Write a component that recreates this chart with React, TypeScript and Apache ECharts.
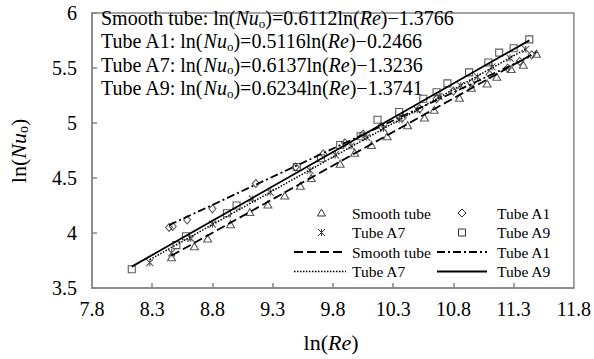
import React, { useEffect, useRef } from "react";
import * as echarts from "echarts";

// ---- data ----
const smoothTube: [number, number][] = [
  [8.46, 3.78], [8.65, 3.88], [8.76, 3.95], [8.95, 4.08], [9.11, 4.19], [9.26, 4.26],
  [9.40, 4.34], [9.53, 4.43], [9.62, 4.50], [9.86, 4.63], [9.98, 4.73], [10.12, 4.80],
  [10.25, 4.88], [10.42, 4.98], [10.56, 5.05], [10.64, 5.12], [10.85, 5.23], [10.95, 5.32],
  [11.08, 5.36], [11.16, 5.42], [11.28, 5.49], [11.38, 5.53], [11.49, 5.63],
];
const tubeA1: [number, number][] = [
  [8.44, 4.05], [8.47, 4.06], [8.59, 4.12], [8.80, 4.22], [9.16, 4.45], [9.49, 4.60],
  [9.72, 4.72], [9.90, 4.82], [10.05, 4.90], [10.20, 4.97], [10.38, 5.05], [10.52, 5.13],
  [10.66, 5.22], [10.80, 5.29], [10.95, 5.36], [11.10, 5.44], [11.25, 5.50], [11.35, 5.56],
  [11.45, 5.62],
];
const tubeA7: [number, number][] = [
  [8.28, 3.73], [8.46, 3.82], [8.62, 3.95], [8.80, 4.08], [9.13, 4.31], [9.28, 4.37],
  [9.61, 4.57], [9.82, 4.71], [9.95, 4.79], [10.08, 4.87], [10.22, 4.95], [10.35, 5.03],
  [10.50, 5.12], [10.68, 5.24], [10.86, 5.34], [11.00, 5.42], [11.12, 5.51], [11.27, 5.59],
  [11.40, 5.67],
];
const tubeA9: [number, number][] = [
  [8.13, 3.67], [8.50, 3.89], [8.58, 3.97], [8.92, 4.18], [9.00, 4.25], [9.50, 4.60],
  [9.70, 4.68], [9.86, 4.80], [10.03, 4.88], [10.17, 5.03], [10.35, 5.10], [10.55, 5.22],
  [10.66, 5.28], [10.75, 5.36], [10.93, 5.46], [11.09, 5.55], [11.18, 5.64], [11.30, 5.68],
  [11.43, 5.76],
];
// fitted trend lines (end points)
const smoothFit: [number, number][] = [[8.46, 3.7942], [11.49, 5.6461]];
const a1Fit: [number, number][] = [[8.44, 4.0713], [11.45, 5.6112]];
const a7Fit: [number, number][] = [[8.28, 3.7578], [11.40, 5.6726]];
const a9Fit: [number, number][] = [[8.13, 3.6941], [11.43, 5.7514]];

const xLabels = [7.8, 8.3, 8.8, 9.3, 9.8, 10.3, 10.8, 11.3, 11.8];
const xTicks = [8.3, 8.8, 9.3, 9.8, 10.3, 10.8, 11.3];
const equations = [
  ["Smooth tube: ", "0.6112", "1.3766"],
  ["Tube A1: ", "0.5116", "0.2466"],
  ["Tube A7: ", "0.6137", "1.3236"],
  ["Tube A9: ", "0.6234", "1.3741"],
];

const FONT = "'Liberation Serif', 'Times New Roman', serif";
const AX = "#868686";
const MK = "#333";
const STAR = "path://M0,0L10,10M10,0L0,10M5,0L5,10";

export default function App() {
  const ref = useRef<HTMLDivElement>(null);
  useEffect(() => {
    if (!ref.current) return;
    const chart = echarts.init(ref.current, null, { renderer: "svg" });

    const eqRich = {
      a: { fontFamily: FONT, fontSize: 20, color: "#000" },
      i: { fontFamily: FONT, fontSize: 20, fontStyle: "italic", color: "#000" },
      s: { fontFamily: FONT, fontSize: 13, color: "#000", padding: [10, 0, 0, 0] },
    };
    const eqTexts = equations.map((e, k) => ({
      type: "text",
      x: 101,
      y: 18 + k * 23.4,
      style: {
        text: `{a|${e[0]}ln(}{i|Nu}{s|o}{a|)=${e[1]}ln(}{i|Re}{a|)\u2212${e[2]}}`,
        rich: eqRich,
        verticalAlign: "middle",
        align: "left",
      },
    }));

    const legRows = [213, 232.5, 252, 271.5];
    const legText = (t: string, x: number, y: number) => ({
      type: "text",
      x,
      y,
      style: { text: t, font: `15.5px ${FONT}`, fill: "#000", verticalAlign: "middle", align: "left" },
    });
    const mkStyle = { fill: "none", stroke: MK, lineWidth: 1 };
    const c1 = 321.5;
    const c2 = 462;
    const legend = [
      { type: "polygon", shape: { points: [[c1, legRows[0] - 4], [c1 + 4, legRows[0] + 3], [c1 - 4, legRows[0] + 3]] }, style: mkStyle },
      legText("Smooth tube", 352, legRows[0]),
      { type: "polygon", shape: { points: [[c2, legRows[0] - 4], [c2 + 4, legRows[0]], [c2, legRows[0] + 4], [c2 - 4, legRows[0]]] }, style: mkStyle },
      legText("Tube A1", 497, legRows[0]),
      { type: "line", shape: { x1: c1 - 3.5, y1: legRows[1] - 3.5, x2: c1 + 3.5, y2: legRows[1] + 3.5 }, style: { stroke: MK, lineWidth: 1 } },
      { type: "line", shape: { x1: c1 + 3.5, y1: legRows[1] - 3.5, x2: c1 - 3.5, y2: legRows[1] + 3.5 }, style: { stroke: MK, lineWidth: 1 } },
      { type: "line", shape: { x1: c1, y1: legRows[1] - 3.5, x2: c1, y2: legRows[1] + 3.5 }, style: { stroke: MK, lineWidth: 1 } },
      legText("Tube A7", 352, legRows[1]),
      { type: "rect", shape: { x: c2 - 3.5, y: legRows[1] - 3.5, width: 7, height: 7 }, style: mkStyle },
      legText("Tube A9", 497, legRows[1]),
      { type: "line", shape: { x1: 294, y1: legRows[2], x2: 346, y2: legRows[2] }, style: { stroke: "#000", lineWidth: 1.8, lineDash: [9, 4] } },
      legText("Smooth tube", 352, legRows[2]),
      { type: "line", shape: { x1: 437, y1: legRows[2], x2: 487, y2: legRows[2] }, style: { stroke: "#000", lineWidth: 1.8, lineDash: [8, 3, 2, 3] } },
      legText("Tube A1", 497, legRows[2]),
      { type: "line", shape: { x1: 294, y1: legRows[3], x2: 346, y2: legRows[3] }, style: { stroke: "#000", lineWidth: 1.5, lineDash: [1.5, 1.5] } },
      legText("Tube A7", 352, legRows[3]),
      { type: "line", shape: { x1: 437, y1: legRows[3], x2: 487, y2: legRows[3] }, style: { stroke: "#000", lineWidth: 1.8 } },
      legText("Tube A9", 497, legRows[3]),
    ];

    const titles = [
      {
        type: "text",
        x: 331,
        y: 342,
        style: {
          text: "{a|ln(}{i|Re}{a|)}",
          rich: {
            a: { fontFamily: FONT, fontSize: 22, color: "#000" },
            i: { fontFamily: FONT, fontSize: 22, fontStyle: "italic", color: "#000" },
          },
          align: "center",
          verticalAlign: "middle",
        },
      },
      {
        type: "text",
        x: 18,
        y: 151,
        rotation: Math.PI / 2,
        style: {
          text: "{a|ln(}{i|Nu}{s|o}{a|)}",
          rich: {
            a: { fontFamily: FONT, fontSize: 22, color: "#000" },
            i: { fontFamily: FONT, fontSize: 22, fontStyle: "italic", color: "#000" },
            s: { fontFamily: FONT, fontSize: 14, color: "#000", padding: [11, 0, 0, 0] },
          },
          align: "center",
          verticalAlign: "middle",
        },
      },
    ];

    const scatter = (name: string, data: [number, number][], symbol: string, size: number | number[]) => ({
      name,
      type: "scatter",
      data,
      symbol,
      symbolSize: size,
      itemStyle: { color: "rgba(255,255,255,0)", borderColor: MK, borderWidth: 1.1 },
      z: 3,
    });
    const fit = (name: string, data: [number, number][], type: any, width: number) => ({
      name,
      type: "line",
      data,
      showSymbol: false,
      symbol: "none",
      lineStyle: { color: "#000", width, type },
      z: 4,
    });

    chart.setOption({
      animation: false,
      backgroundColor: "#fff",
      grid: {
        left: 92, right: 16, top: 13, bottom: 71,
        show: true, borderColor: AX, borderWidth: 1.5, backgroundColor: "transparent",
      },
      xAxis: {
        type: "value",
        min: 7.8,
        max: 11.8,
        axisLine: { show: true, onZero: false, lineStyle: { color: AX, width: 1.5 } },
        axisTick: { show: true, inside: true, length: 5, customValues: xTicks, lineStyle: { color: AX, width: 1.5 } },
        axisLabel: {
          customValues: xLabels,
          formatter: (v: number) => v.toFixed(1),
          fontFamily: FONT, fontSize: 20, color: "#000", margin: 11,
        },
        splitLine: { show: false },
      },
      yAxis: {
        type: "value",
        min: 3.5,
        max: 6,
        interval: 0.5,
        axisLine: { show: true, onZero: false, lineStyle: { color: AX, width: 1.5 } },
        axisTick: { show: true, inside: true, length: 5, lineStyle: { color: AX, width: 1.5 } },
        axisLabel: {
          formatter: (v: number) => (Math.abs(v - Math.round(v)) < 1e-9 ? String(Math.round(v)) : v.toFixed(1)),
          fontFamily: FONT, fontSize: 20, color: "#000", margin: 15,
        },
        splitLine: { show: false },
      },
      series: [
        scatter("Smooth tube", smoothTube, "triangle", [8, 7]),
        scatter("Tube A1", tubeA1, "diamond", [7, 8]),
        scatter("Tube A7", tubeA7, STAR, 7),
        scatter("Tube A9", tubeA9, "rect", 7),
        fit("Smooth tube fit", smoothFit, [9, 4], 1.8),
        fit("Tube A1 fit", a1Fit, [8, 3, 2, 3], 1.8),
        fit("Tube A7 fit", a7Fit, [1.5, 1.5], 1.5),
        fit("Tube A9 fit", a9Fit, "solid", 1.8),
      ],
      graphic: [...eqTexts, ...legend, ...titles],
    });
    return () => chart.dispose();
  }, []);
  return <div ref={ref} style={{ position: "fixed", left: 0, top: 0, width: 594, height: 359 }} />;
}
